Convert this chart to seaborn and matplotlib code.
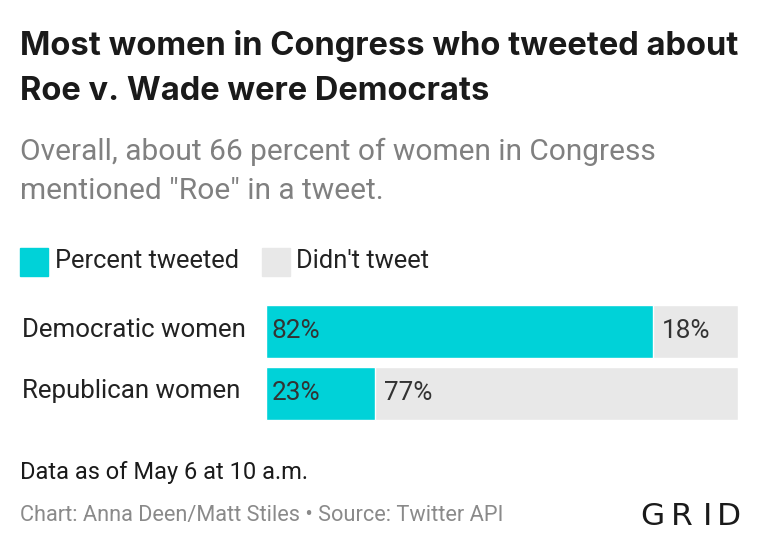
import matplotlib
matplotlib.use("Agg")
from matplotlib import pyplot as plt
from matplotlib.patches import Rectangle
import pandas as pd
import seaborn as sns

# Chart data
groups = ["Democratic women", "Republican women"]
tweeted = [82, 23]
didnt_tweet = [18, 77]
legend_labels = ["Percent tweeted", "Didn't tweet"]

TEAL = "#00d2d8"
GRAY = "#e8e8e8"

sns.set_theme(style="white")
plt.rcParams["font.family"] = ["Roboto", "DejaVu Sans"]

df = pd.DataFrame({"group": groups, "tweeted": tweeted, "didnt": didnt_tweet})
df["total"] = df["tweeted"] + df["didnt"]

fig = plt.figure(figsize=(7.6, 5.52), dpi=100)
fig.patch.set_facecolor("white")

W, H = 760, 552
ax = fig.add_axes([266 / W, 1 - 424.5 / H, 472 / W, 124 / H])

# full bar (gray) then tweeted share on top (teal)
sns.barplot(data=df, x="total", y="group", color=GRAY, width=0.855,
            saturation=1, ax=ax)
sns.barplot(data=df, x="tweeted", y="group", color=TEAL, width=0.855,
            saturation=1, ax=ax)

ax.set_xlim(0, 100)
ax.set_ylim(1.5, -0.5)
ax.set_xlabel("")
ax.set_ylabel("")
ax.set_xticks([])
ax.set_yticks([])
sns.despine(ax=ax, left=True, bottom=True)

for i, (t, d) in enumerate(zip(tweeted, didnt_tweet)):
    ax.text(1.2, i, f"{t}%", va="center", ha="left", fontsize=18.8,
            color="#333333")
    ax.text(t + 1.9, i, f"{d}%", va="center", ha="left", fontsize=18.8,
            color="#333333")

for i, g in enumerate(groups):
    y = [330, 391][i]
    fig.text(22 / W, 1 - y / H, g, va="center", ha="left", fontsize=18.6,
             color="#222222")

# Title and subtitle
for txt, y in [("Most women in Congress who tweeted about", 46),
               ("Roe v. Wade were Democrats", 92)]:
    fig.text(20 / W, 1 - y / H, txt, fontsize=23.5, fontweight="bold",
             color="#1a1a1a", va="center", family=["Inter", "Roboto"])
fig.text(20 / W, 1 - 152 / H, "Overall, about 66 percent of women in Congress",
         fontsize=21.5, color="#808080", va="center")
fig.text(20 / W, 1 - 191 / H, 'mentioned "Roe" in a tweet.',
         fontsize=21.5, color="#808080", va="center")

# Legend
fig.patches.append(Rectangle((20 / W, 1 - 276 / H), 28 / W, 28 / H,
                             transform=fig.transFigure, color=TEAL))
fig.text(55 / W, 1 - 261 / H, legend_labels[0], fontsize=18.4,
         color="#222222", va="center")
fig.patches.append(Rectangle((262 / W, 1 - 276 / H), 28 / W, 28 / H,
                             transform=fig.transFigure, color=GRAY))
fig.text(296 / W, 1 - 261 / H, legend_labels[1], fontsize=18.4,
         color="#222222", va="center")

# Footer
fig.text(20 / W, 1 - 472 / H, "Data as of May 6 at 10 a.m.",
         fontsize=17, color="#1a1a1a", va="center")
fig.text(20 / W, 1 - 515 / H,
         "Chart: Anna Deen/Matt Stiles \u2022 Source: Twitter API",
         fontsize=15.7, color="#8a8a8a", va="center")

# logo, letter by letter for the wide spacing
for letter, x in zip("GRID", [652.5, 682, 708, 729]):
    fig.text(x / W, 1 - 525 / H, letter, fontsize=22.5, color="#1a1a1a",
             va="baseline", ha="center", family=["DejaVu Sans"])

fig.savefig("out.png", dpi=100, facecolor="white")
